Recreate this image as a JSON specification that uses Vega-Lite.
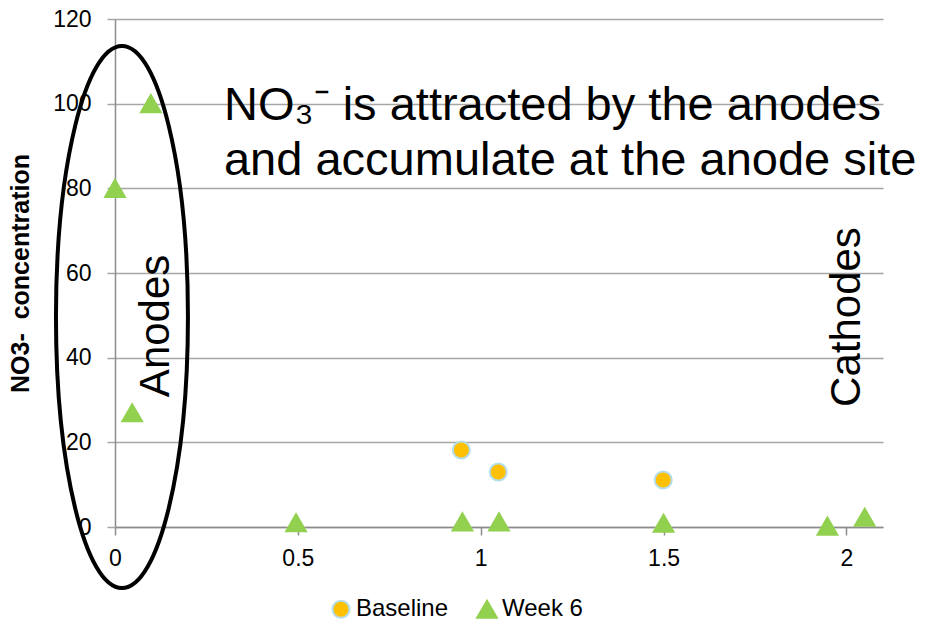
{
  "$schema": "https://vega.github.io/schema/vega-lite/v6.json",
  "width": 768,
  "height": 508,
  "autosize": {"type": "none"},
  "padding": {"left": 115, "top": 19, "right": 49, "bottom": 97},
  "background": "white",
  "config": {
    "view": {"stroke": null},
    "font": "Liberation Sans",
    "legend": {
      "orient": "none",
      "legendX": 214,
      "legendY": 578,
      "direction": "horizontal",
      "labelFontSize": 24,
      "labelColor": "#000000",
      "labelFont": "Liberation Sans",
      "symbolStrokeWidth": 2,
      "columnPadding": 24,
      "labelOffset": 3,
      "padding": 0
    }
  },
  "encoding": {
    "x": {
      "field": "x",
      "type": "quantitative",
      "scale": {"domain": [0, 2.1], "nice": false, "zero": false},
      "axis": {
        "title": null,
        "values": [0, 0.5, 1, 1.5, 2],
        "format": "~g",
        "grid": false,
        "domainColor": "#8C8C8C",
        "domainWidth": 1.5,
        "tickColor": "#8C8C8C",
        "tickWidth": 1.5,
        "tickSize": 8,
        "labelFontSize": 23,
        "labelColor": "#000000",
        "labelPadding": 12,
        "labelFlush": false,
        "labelFont": "Liberation Sans"
      }
    },
    "y": {
      "field": "y",
      "type": "quantitative",
      "scale": {"domain": [0, 120], "nice": false, "zero": true},
      "axis": {
        "title": "NO3- \u00a0concentration",
        "titleFontSize": 25,
        "titleFontWeight": "bold",
        "titleColor": "#000000",
        "titleFont": "Liberation Sans",
        "titlePadding": 19,
        "values": [0, 20, 40, 60, 80, 100, 120],
        "grid": true,
        "gridColor": "#A6A6A6",
        "gridWidth": 1.5,
        "domainColor": "#8C8C8C",
        "domainWidth": 1.5,
        "tickColor": "#A6A6A6",
        "tickWidth": 1.5,
        "tickSize": 8,
        "labelFontSize": 23,
        "labelColor": "#000000",
        "labelPadding": 16,
        "labelFlush": false,
        "labelFont": "Liberation Sans"
      }
    }
  },
  "layer": [
    {
      "data": {
        "values": [
          {"series": "Baseline", "x": 0.947, "y": 18.2},
          {"series": "Baseline", "x": 1.048, "y": 13.0},
          {"series": "Baseline", "x": 1.499, "y": 11.1},
          {"series": "Week 6", "x": 0.0, "y": 80.0},
          {"series": "Week 6", "x": 0.098, "y": 100.0},
          {"series": "Week 6", "x": 0.047, "y": 27.0},
          {"series": "Week 6", "x": 0.495, "y": 1.0},
          {"series": "Week 6", "x": 0.95, "y": 1.2},
          {"series": "Week 6", "x": 1.05, "y": 1.2},
          {"series": "Week 6", "x": 1.5, "y": 0.9},
          {"series": "Week 6", "x": 1.948, "y": 0.2},
          {"series": "Week 6", "x": 2.05, "y": 2.3}
        ]
      },
      "mark": {"type": "point", "filled": true, "opacity": 1, "strokeWidth": 2},
      "encoding": {
        "shape": {
          "field": "series",
          "type": "nominal",
          "title": null,
          "scale": {"domain": ["Baseline", "Week 6"], "range": ["circle", "triangle-up"]}
        },
        "color": {
          "field": "series",
          "type": "nominal",
          "title": null,
          "scale": {"domain": ["Baseline", "Week 6"], "range": ["#FFC000", "#92D050"]}
        },
        "stroke": {
          "field": "series",
          "type": "nominal",
          "title": null,
          "scale": {"domain": ["Baseline", "Week 6"], "range": ["#B4DDE9", "#92D050"]}
        },
        "size": {
          "field": "series",
          "type": "nominal",
          "title": null,
          "scale": {"domain": ["Baseline", "Week 6"], "range": [290, 390]}
        }
      }
    },
    {
      "data": {"values": [{"x": 0.019, "y": 49.6}]},
      "mark": {
        "type": "point",
        "shape": "M0,-1C0.1345,-1 0.2435,-0.5523 0.2435,0C0.2435,0.5523 0.1345,1 0,1C-0.1345,1 -0.2435,0.5523 -0.2435,0C-0.2435,-0.5523 -0.1345,-1 0,-1Z",
        "size": 293764,
        "filled": false,
        "stroke": "#000000",
        "strokeWidth": 4,
        "opacity": 1
      }
    },
    {
      "data": {"values": [{"x": 0.298, "y": 96.1, "label": "NO₃⁻ is attracted by the anodes\nand accumulate at the anode site"}]},
      "mark": {
        "type": "text",
        "align": "left",
        "baseline": "alphabetic",
        "fontSize": 47,
        "lineHeight": 55,
        "lineBreak": "\n",
        "color": "#000000",
        "font": "Liberation Sans"
      },
      "encoding": {"text": {"field": "label"}}
    },
    {
      "data": {
        "values": [
          {"x": 0.148, "y": 47.5, "label": "Anodes"},
          {"x": 2.038, "y": 49.6, "label": "Cathodes"}
        ]
      },
      "mark": {
        "type": "text",
        "angle": 270,
        "align": "center",
        "baseline": "alphabetic",
        "fontSize": 42,
        "color": "#000000",
        "font": "Liberation Sans"
      },
      "encoding": {"text": {"field": "label"}}
    }
  ]
}
